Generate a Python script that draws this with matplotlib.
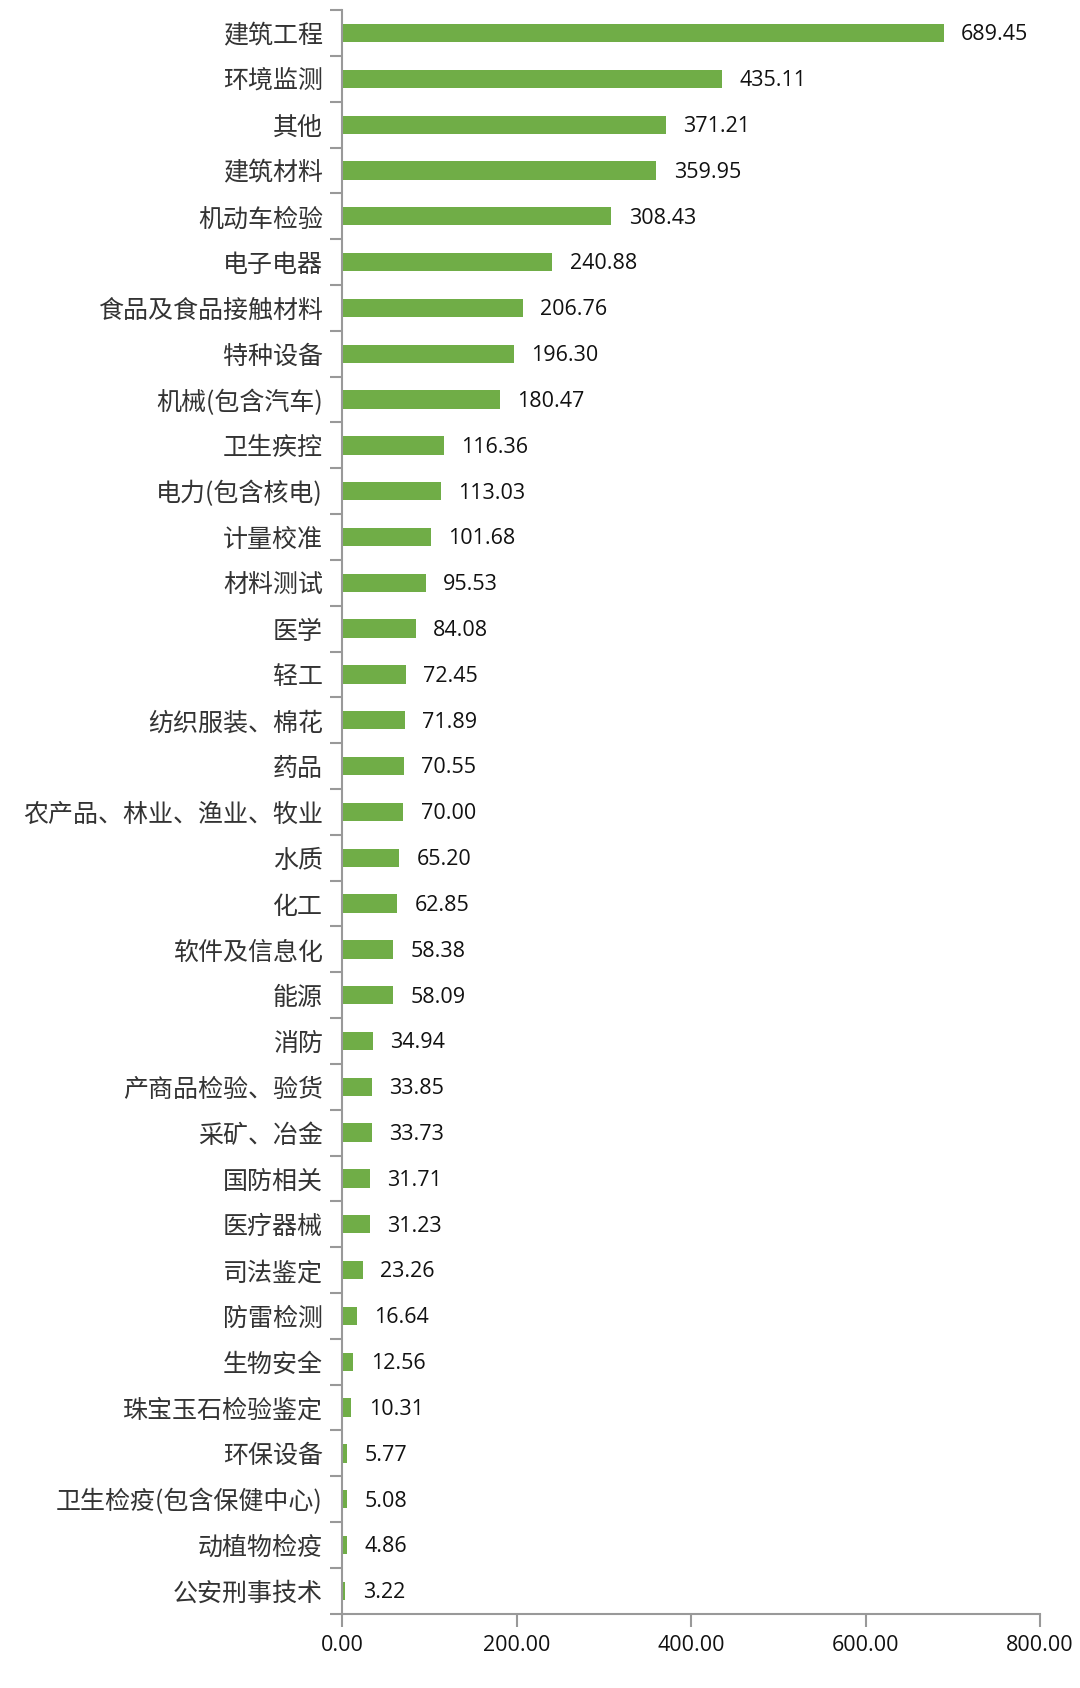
import numpy as np
import matplotlib.pyplot as plt

plt.rcParams['font.family'] = ['Noto Sans CJK SC', 'DejaVu Sans']

categories = [
    "建筑工程", "环境监测", "其他", "建筑材料", "机动车检验", "电子电器",
    "食品及食品接触材料", "特种设备", "机械(包含汽车)", "卫生疾控",
    "电力(包含核电)", "计量校准", "材料测试", "医学", "轻工",
    "纺织服装、棉花", "药品", "农产品、林业、渔业、牧业", "水质", "化工",
    "软件及信息化", "能源", "消防", "产商品检验、验货", "采矿、冶金",
    "国防相关", "医疗器械", "司法鉴定", "防雷检测", "生物安全",
    "珠宝玉石检验鉴定", "环保设备", "卫生检疫(包含保健中心)", "动植物检疫",
    "公安刑事技术",
]
values = [
    689.45, 435.11, 371.21, 359.95, 308.43, 240.88, 206.76, 196.30, 180.47,
    116.36, 113.03, 101.68, 95.53, 84.08, 72.45, 71.89, 70.55, 70.00, 65.20,
    62.85, 58.38, 58.09, 34.94, 33.85, 33.73, 31.71, 31.23, 23.26, 16.64,
    12.56, 10.31, 5.77, 5.08, 4.86, 3.22,
]
x_ticks = [0, 200, 400, 600, 800]

fig = plt.figure(figsize=(10.8, 16.88), dpi=100)
ax = fig.add_axes([0.317, 0.044, 0.646, 0.950])

n = len(categories)
y = np.arange(n)
ax.barh(y, values, height=0.4, color="#70AD47")
ax.set_ylim(n - 0.5, -0.5)
ax.set_xlim(0, 800)

# valores al lado de cada barra
for yi, v in zip(y, values):
    ax.text(v + 20, yi + 0.04, f"{v:.2f}", va="center", ha="left",
            fontsize=15.5, family=["Open Sans", "DejaVu Sans"], color="#111111")

# eje y: etiquetas en el centro, marcas entre categorias
ax.set_yticks(y)
ax.set_yticklabels(categories, fontsize=18, color="#333333")
ax.set_yticks(np.arange(n + 1) - 0.5, minor=True)
ax.tick_params(axis="y", which="major", length=0, pad=14)
ax.tick_params(axis="y", which="minor", length=9, width=1.5, color="#999999")

ax.set_xticks(x_ticks)
ax.set_xticklabels([f"{t:.2f}" for t in x_ticks], fontsize=15.5,
                   family=["Open Sans", "DejaVu Sans"], color="#111111")
ax.tick_params(axis="x", length=9, width=1.5, color="#999999", pad=6)

for side in ["top", "right"]:
    ax.spines[side].set_visible(False)
for side in ["left", "bottom"]:
    ax.spines[side].set_color("#999999")
    ax.spines[side].set_linewidth(1.5)

fig.savefig("out.png", dpi=100)
